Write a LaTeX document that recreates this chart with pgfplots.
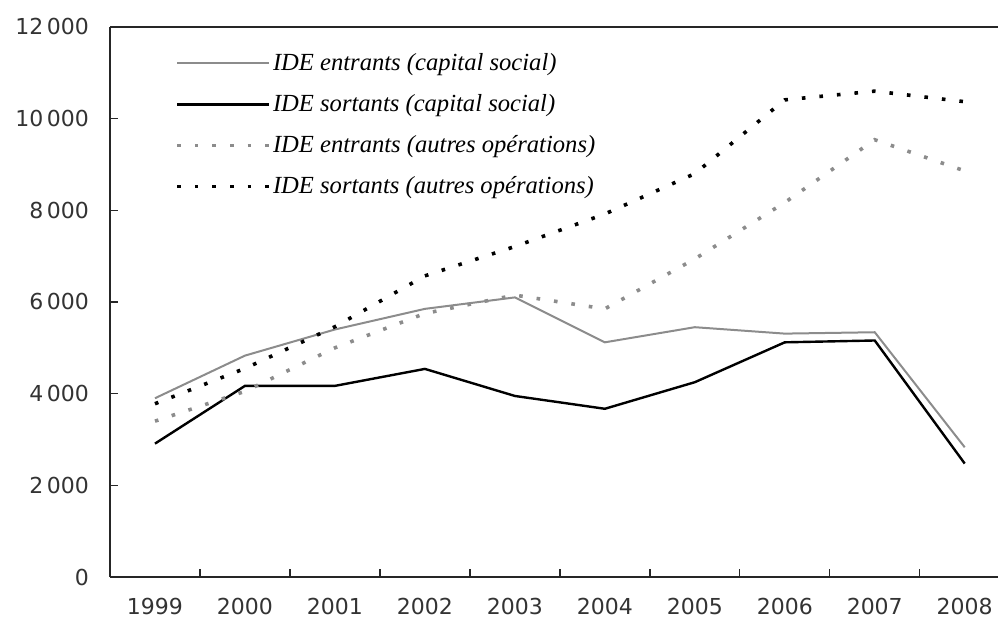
\documentclass[border=0pt]{standalone}
\usepackage{fontspec}
\setmainfont{DejaVu Sans}
\newfontfamily\legfont{Liberation Serif}
\usepackage{pgfplots}
\pgfplotsset{compat=1.18}
\usetikzlibrary{calc}
\begin{document}
\begin{tikzpicture}
\begin{axis}[name=ax, scale only axis, width=444pt, height=275pt,
  xmin=-0.5, xmax=9.37, ymin=0, ymax=12000,
  scaled y ticks=false,
  axis x line*=box, axis y line*=left,
  axis line style={black!85, line width=0.9pt},
  tick align=inside, xtick pos=left, ytick pos=left,
  major tick length=4pt,
  tick style={black!85, line width=0.7pt},
  xtick={0.5,1.5,...,8.5}, xticklabels={},
  extra x ticks={0,1,2,3,4,5,6,7,8,9},
  extra x tick labels={1999,2000,2001,2002,2003,2004,2005,2006,2007,2008},
  extra x tick style={major tick length=0pt, tick label style={yshift=-7pt}},
  ytick={0,2000,4000,6000,8000,10000,12000},
  yticklabels={0,2\,000,4\,000,6\,000,8\,000,10\,000,12\,000},
  yticklabel style={xshift=-7pt},
  tick label style={font=\fontsize{11}{13}\selectfont, text=black!80},
  legend style={draw=none, fill=none, at={(rel axis cs:0,1)}, anchor=north west,
    xshift=29.5pt, yshift=-10pt, font=\legfont\itshape\fontsize{12.3}{14}\selectfont,
    row sep=8.5pt, nodes={inner sep=1pt}},
  legend cell align=left,
  legend image code/.code={\draw[#1] (0pt,0pt) -- (46pt,0pt);},
]
\addplot[black!45, line width=1pt] coordinates {(0,3900)(1,4830)(2,5400)(3,5850)(4,6100)(5,5120)(6,5450)(7,5310)(8,5340)(9,2830)};
\addlegendentry{IDE entrants (capital social)}
\addplot[black, line width=1.2pt] coordinates {(0,2910)(1,4170)(2,4170)(3,4540)(4,3950)(5,3670)(6,4250)(7,5120)(8,5160)(9,2475)};
\addlegendentry{IDE sortants (capital social)}
\addplot[black!45, line width=1.8pt, dash pattern=on 1.8pt off 7pt] coordinates {(0,3400)(1,4050)(2,5000)(3,5750)(4,6150)(5,5850)(6,6940)(7,8170)(8,9540)(9,8860)};
\addlegendentry{IDE entrants (autres opérations)}
\addplot[black, line width=1.8pt, dash pattern=on 1.8pt off 7pt] coordinates {(0,3780)(1,4550)(2,5460)(3,6570)(4,7210)(5,7920)(6,8800)(7,10410)(8,10600)(9,10370)};
\addlegendentry{IDE sortants (autres opérations)}
\end{axis}
\pgfresetboundingbox
\path[use as bounding box] ($(ax.south west)+(-55pt,-26pt)$) rectangle ($(ax.north east)+(0pt,13.5pt)$);
\end{tikzpicture}
\end{document}
